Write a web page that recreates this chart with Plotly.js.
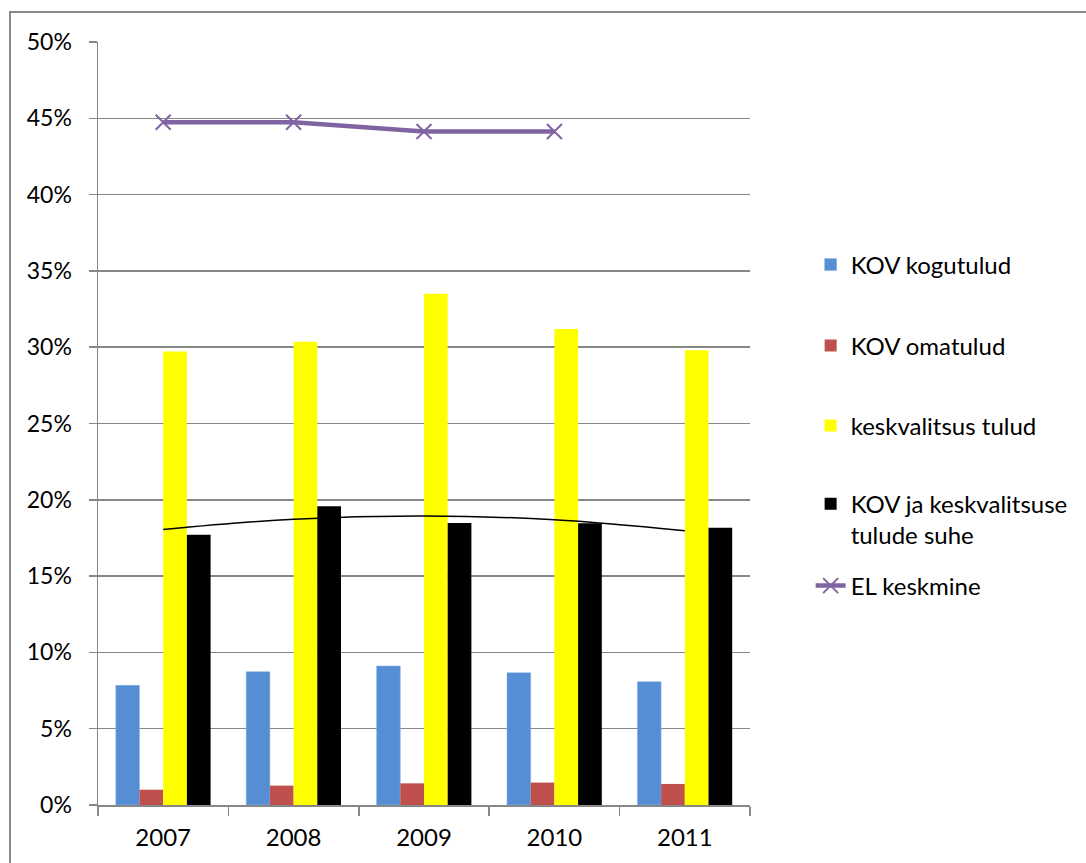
<!DOCTYPE html>
<html>
<head>
<meta charset="utf-8">
<script src="https://cdn.plot.ly/plotly-3.0.1.min.js"></script>
<style>html,body{margin:0;padding:0;background:#fff;}#chart{width:1086px;height:863px;}</style>
</head>
<body>
<div id="chart"></div>
<script>
// Data (percent)
var years = ['2007', '2008', '2009', '2010', '2011'];
var kovKogutulud = [7.84, 8.74, 9.11, 8.67, 8.08];
var kovOmatulud = [1.0, 1.27, 1.42, 1.47, 1.38];
var keskvalitsusTulud = [29.72, 30.35, 33.5, 31.2, 29.8];
var kovKeskSuhe = [17.71, 19.58, 18.48, 18.46, 18.17];
var elKeskmine = [44.74, 44.74, 44.13, 44.13, null];
var seriesNames = ['KOV kogutulud', 'KOV omatulud', 'keskvalitsus tulud', 'KOV ja keskvalitsuse<br>tulude suhe', 'EL keskmine'];
var yTickVals = [0, 5, 10, 15, 20, 25, 30, 35, 40, 45, 50];

// Polynomial (order 2) trendline of the ratio series, least squares
function quadFit(ys) {
  var n = ys.length, xs = ys.map(function (_, i) { return i + 1; });
  var S = [0, 0, 0, 0, 0], T = [0, 0, 0];
  for (var i = 0; i < n; i++) {
    for (var k = 0; k < 5; k++) S[k] += Math.pow(xs[i], k);
    for (var k2 = 0; k2 < 3; k2++) T[k2] += Math.pow(xs[i], k2) * ys[i];
  }
  var A = [[S[0], S[1], S[2], T[0]], [S[1], S[2], S[3], T[1]], [S[2], S[3], S[4], T[2]]];
  for (var c = 0; c < 3; c++) {
    for (var r = c + 1; r < 3; r++) {
      var f = A[r][c] / A[c][c];
      for (var j = c; j < 4; j++) A[r][j] -= f * A[c][j];
    }
  }
  var coef = [0, 0, 0];
  for (var r2 = 2; r2 >= 0; r2--) {
    var s = A[r2][3];
    for (var j2 = r2 + 1; j2 < 3; j2++) s -= A[r2][j2] * coef[j2];
    coef[r2] = s / A[r2][r2];
  }
  return xs.map(function (x) { return coef[0] + coef[1] * x + coef[2] * x * x; });
}
var trend = quadFit(kovKeskSuhe);

var FONT = 'Lato, "Open Sans", sans-serif';
var GRID = '#878787';

var traces = [
  {type: 'bar', x: years, y: kovKogutulud, name: seriesNames[0], marker: {color: '#558ED5', line: {color: '#8DB3E2', width: 0.5}}, legend: 'legend'},
  {type: 'bar', x: years, y: kovOmatulud, name: seriesNames[1], marker: {color: '#C0504D'}, legend: 'legend2'},
  {type: 'bar', x: years, y: keskvalitsusTulud, name: seriesNames[2], marker: {color: '#FFFF00'}, legend: 'legend3'},
  {type: 'bar', x: years, y: kovKeskSuhe, name: seriesNames[3], marker: {color: '#000000'}, legend: 'legend4'},
  {type: 'scatter', mode: 'lines+markers', x: years, y: elKeskmine, name: seriesNames[4],
   line: {color: '#8064A2', width: 4.5}, marker: {symbol: 'x-thin', size: 15, color: '#8064A2', line: {color: '#8064A2', width: 2}}, legend: 'legend5'},
  {type: 'scatter', mode: 'lines', x: years, y: trend, name: 'trend', showlegend: false,
   line: {color: '#000000', width: 1.5, shape: 'spline'}, hoverinfo: 'skip'}
];

function leg(y) {
  return {x: 1.093, xanchor: 'left', y: y, yanchor: 'middle', bgcolor: 'rgba(0,0,0,0)', borderwidth: 0,
          font: {family: FONT, size: 24, color: '#000'}, valign: 'top', itemwidth: 30};
}

var layout = {
  width: 1086, height: 863,
  margin: {l: 98, r: 336, t: 42, b: 58},
  paper_bgcolor: '#ffffff', plot_bgcolor: '#ffffff',
  font: {family: FONT, size: 23, color: '#000'},
  barmode: 'group', bargap: 0.273, bargroupgap: 0,
  showlegend: true,
  legend: leg(0.7077),
  legend2: leg(0.6016),
  legend3: leg(0.4967),
  legend4: leg(0.374),
  legend5: leg(0.287),
  xaxis: {type: 'category', showgrid: false, showline: true, linecolor: GRID, linewidth: 1.5,
          ticks: 'outside', tickson: 'boundaries', ticklen: 9, tickcolor: GRID, tickwidth: 1.5,
          ticklabelstandoff: 11,
          tickfont: {family: FONT, size: 24, color: '#000'}, fixedrange: true},
  yaxis: {range: [0, 50], tickvals: yTickVals, ticktext: yTickVals.map(function (v) { return v + '%'; }),
          showgrid: true, gridcolor: GRID, gridwidth: 1.5, zeroline: false,
          showline: true, linecolor: GRID, linewidth: 1.5,
          ticks: 'outside', ticklen: 8, tickcolor: GRID, tickwidth: 1.5, ticklabelstandoff: 12,
          tickfont: {family: FONT, size: 23, color: '#000'}, fixedrange: true},
  shapes: [{type: 'rect', xref: 'paper', yref: 'paper', x0: (10 - 98) / 652, x1: (1100 - 98) / 652,
            y0: (805 - 900) / 763, y1: (805 - 12) / 763, line: {color: '#898989', width: 2}, fillcolor: 'rgba(0,0,0,0)', layer: 'below'}]
};

Plotly.newPlot('chart', traces, layout, {displayModeBar: false, staticPlot: true});
</script>
</body>
</html>
